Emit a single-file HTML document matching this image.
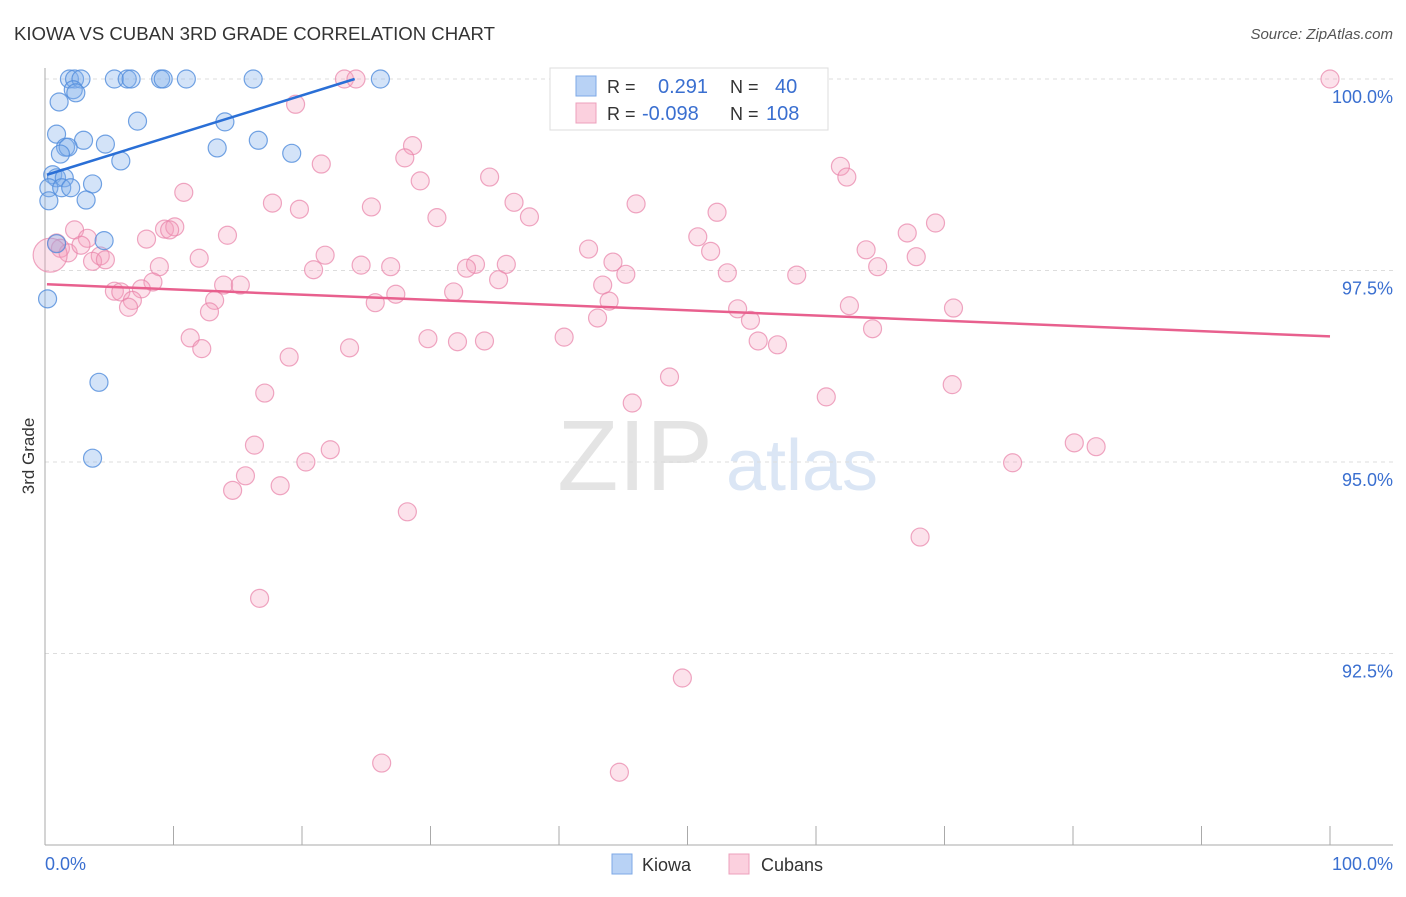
<!DOCTYPE html>
<html><head><meta charset="utf-8"><style>
body{margin:0;background:#fff;font-family:"Liberation Sans",sans-serif;}
svg text{font-family:"Liberation Sans",sans-serif;}
</style></head><body>
<svg id="chart" width="1406" height="892">
<text x="14" y="40" font-size="18.6" fill="#333" textLength="481">KIOWA VS CUBAN 3RD GRADE CORRELATION CHART</text>
<text x="1393" y="39" font-size="15" fill="#555" text-anchor="end" font-style="italic">Source: ZipAtlas.com</text>
<text x="635" y="490" font-size="100" fill="#e4e4e4" text-anchor="middle" font-family="Liberation Serif">ZIP</text>
<text x="802" y="490" font-size="72" fill="#dbe6f5" text-anchor="middle">atlas</text>
<g id="grid"></g>
<g id="axes"></g>
<g id="points"></g>
<g id="trends"></g>
<text transform="translate(34,456) rotate(-90)" font-size="17" fill="#333" text-anchor="middle">3rd Grade</text>
<text x="45" y="870" font-size="18" fill="#3a6fd0">0.0%</text>
<text x="1393" y="870" font-size="18" fill="#3a6fd0" text-anchor="end">100.0%</text>
<g>
<rect x="550" y="68" width="278" height="62" fill="#fff" stroke="#ddd"/>
<rect x="576" y="76" width="20" height="20" fill="#b8d2f5" stroke="#7ea8e6"/>
<rect x="576" y="103" width="20" height="20" fill="#fbd0de" stroke="#eca0bc"/>
<text x="607" y="93" font-size="18" fill="#333">R =</text>
<text x="658" y="93" font-size="20" fill="#3a6fd0">0.291</text>
<text x="730" y="93" font-size="18" fill="#333">N =</text>
<text x="775" y="93" font-size="20" fill="#3a6fd0">40</text>
<text x="607" y="120" font-size="18" fill="#333">R =</text>
<text x="642" y="120" font-size="20" fill="#3a6fd0">-0.098</text>
<text x="730" y="120" font-size="18" fill="#333">N =</text>
<text x="766" y="120" font-size="20" fill="#3a6fd0">108</text>
</g>
<g>
<rect x="612" y="854" width="20" height="20" fill="#b8d2f5" stroke="#7ea8e6"/>
<text x="642" y="871" font-size="18" fill="#333">Kiowa</text>
<rect x="729" y="854" width="20" height="20" fill="#fbd0de" stroke="#eca0bc"/>
<text x="761" y="871" font-size="18" fill="#333">Cubans</text>
</g>
</svg>
<script>
const yTicks=[100,97.5,95,92.5];
const yTickLabels=["100.0%","97.5%","95.0%","92.5%"];
const xTicks=[10,20,30,40,50,60,70,80,90,100];
const kiowaX=[1.9,2.3,2.8,5.4,6.4,6.7,9.0,9.2,11.0,16.2,26.1,2.2,2.4,1.1,7.2,0.9,3.0,4.7,1.6,1.8,1.2,5.9,14.0,13.4,16.6,19.2,0.6,0.9,1.5,3.7,0.3,1.3,2.0,3.2,0.3,0.9,4.6,0.2,4.2,3.7];
const kiowaY=[100,100,100,100,100,100,100,100,100,100,100,99.86,99.82,99.70,99.45,99.28,99.20,99.15,99.11,99.11,99.02,98.93,99.44,99.10,99.20,99.03,98.75,98.71,98.71,98.63,98.58,98.58,98.58,98.42,98.41,97.85,97.89,97.13,96.04,95.05];
const cubanX=[100,23.3,24.2,19.5,28.6,28.0,21.5,61.9,62.4,34.6,29.2,10.8,17.7,19.8,25.4,36.5,37.7,30.5,46.0,52.3,69.3,67.1,50.8,14.2,9.3,10.1,9.7,7.9,2.3,3.3,0.9,1.2,1.8,2.8,4.3,3.7,4.7,12.0,21.8,20.9,24.6,26.9,33.5,32.8,35.9,42.3,44.2,45.2,51.8,53.1,58.5,63.9,64.8,67.8,8.9,8.4,5.4,5.9,7.5,6.8,6.5,13.9,15.2,13.2,12.8,25.7,27.3,31.8,35.3,43.4,43.9,43.0,53.9,54.9,62.6,70.7,64.4,11.3,12.2,29.8,32.1,34.2,40.4,55.5,57.0,23.7,19.0,48.6,17.1,45.7,60.8,70.6,16.3,22.2,20.3,15.6,18.3,14.6,75.3,80.1,81.8,28.2,68.1,16.7,49.6,26.2,44.7,0.4];
const cubanY=[100,100,100,99.67,99.13,98.97,98.89,98.86,98.72,98.72,98.67,98.52,98.38,98.30,98.33,98.39,98.20,98.19,98.37,98.26,98.12,97.99,97.94,97.96,98.04,98.07,98.03,97.91,98.03,97.92,97.86,97.79,97.73,97.83,97.69,97.62,97.64,97.66,97.70,97.51,97.57,97.55,97.58,97.53,97.58,97.78,97.61,97.45,97.75,97.47,97.44,97.77,97.55,97.68,97.55,97.35,97.23,97.22,97.26,97.11,97.02,97.31,97.31,97.11,96.96,97.08,97.19,97.22,97.38,97.31,97.10,96.88,97.00,96.85,97.04,97.01,96.74,96.62,96.48,96.61,96.57,96.58,96.63,96.58,96.53,96.49,96.37,96.11,95.90,95.77,95.85,96.01,95.22,95.16,95.00,94.82,94.69,94.63,94.99,95.25,95.20,94.35,94.02,93.22,92.18,91.07,90.95,97.70];
const kiowaTrendX=[0.15,24.1];
const kiowaTrendY=[98.75,100];
const cubanTrendX=[0.15,100];
const cubanTrendY=[97.32,96.64];
const NS="http://www.w3.org/2000/svg";
const X0=45,X1=1330,Y0=79,PX_PER=76.6;
function sx(v){return X0+(X1-X0)*v/100;}
function sy(v){return Y0+(100-v)*PX_PER;}
function mk(tag,attrs,parent){const e=document.createElementNS(NS,tag);for(const k in attrs)e.setAttribute(k,attrs[k]);parent.appendChild(e);return e;}
const grid=document.getElementById('grid'),axes=document.getElementById('axes'),pts=document.getElementById('points'),tr=document.getElementById('trends');
yTicks.forEach((t,i)=>{
 const l=mk('line',{x1:45,x2:1393,y1:sy(t),y2:sy(t),stroke:'#ddd','stroke-dasharray':'4,4'},grid);
 
 
 const tx=mk('text',{x:1393,y:sy(t)+24,'font-size':18,fill:'#3a6fd0','text-anchor':'end'},grid);
 tx.textContent=yTickLabels[i];
 
 
});
const ya=mk('line',{x1:45,x2:45,y1:68,y2:845,stroke:'#aaa'},axes);


const xa=mk('line',{x1:45,x2:1393,y1:845,y2:845,stroke:'#aaa'},axes);


xTicks.forEach(t=>{
 const l=mk('line',{x1:sx(t),x2:sx(t),y1:826,y2:845,stroke:'#aaa'},axes);
 
 
});
cubanX.forEach((v,i)=>{
 const big=(i===cubanX.length-1);
 const c=mk('circle',{cx:sx(v),cy:sy(cubanY[i]),r:big?17:9,fill:'rgba(244,160,190,0.3)',stroke:'rgba(232,130,168,0.7)','stroke-width':1.2},pts);
 
 
});
kiowaX.forEach((v,i)=>{
 const c=mk('circle',{cx:sx(v),cy:sy(kiowaY[i]),r:9,fill:'rgba(130,175,235,0.35)',stroke:'rgba(80,140,220,0.8)','stroke-width':1.2},pts);
 
 
});
const tb=mk('line',{x1:sx(kiowaTrendX[0]),y1:sy(kiowaTrendY[0]),x2:sx(kiowaTrendX[1]),y2:sy(kiowaTrendY[1]),stroke:'#2a6fd6','stroke-width':2.5},tr);


const tp=mk('line',{x1:sx(cubanTrendX[0]),y1:sy(cubanTrendY[0]),x2:sx(cubanTrendX[1]),y2:sy(cubanTrendY[1]),stroke:'#e8608e','stroke-width':2.5},tr);


</script>
</body></html>
